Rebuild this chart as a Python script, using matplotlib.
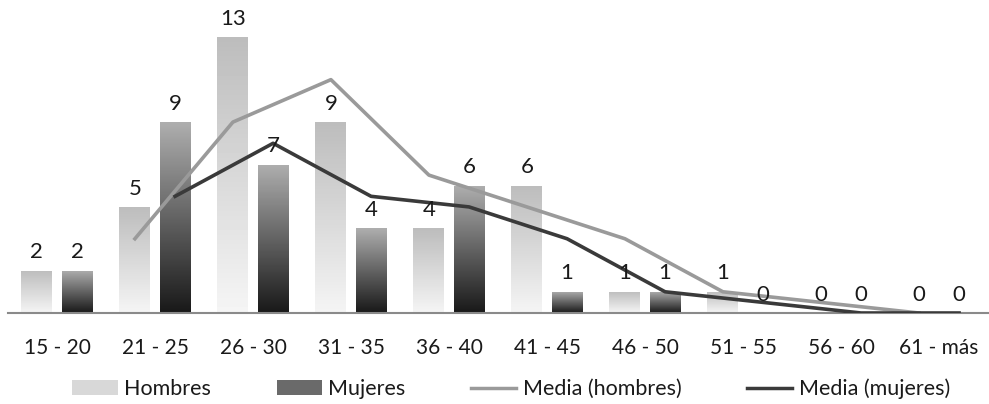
import matplotlib
matplotlib.use("Agg")
import matplotlib.pyplot as plt
import numpy as np
from matplotlib.patches import Patch
from matplotlib.lines import Line2D

plt.rcParams["font.family"] = ["Lato", "DejaVu Sans"]

# Age groups and head counts per group
categorias = ["15 - 20", "21 - 25", "26 - 30", "31 - 35", "36 - 40",
              "41 - 45", "46 - 50", "51 - 55", "56 - 60", "61 - más"]
hombres = [2, 5, 13, 9, 4, 6, 1, 1, 0, 0]
mujeres = [2, 9, 7, 4, 6, 1, 1, 0, 0, 0]

# 2-period moving averages (trend lines), starting at the second group
media_hombres = [3.5, 9, 11, 6.5, 5, 3.5, 1, 0.5, 0]
media_mujeres = [5.5, 8, 5.5, 5, 3.5, 1, 0.5, 0, 0]

W, H = 989, 404
fig = plt.figure(figsize=(W / 100, H / 100), dpi=100)
ax = fig.add_axes([8 / W, 1 - 313 / H, 980 / W, (313 - 16) / H])

x = np.arange(len(categorias))
off, bw = 0.205, 0.315


def gradient_bars(xpos, vals, top_grey, bottom_grey):
    bars = ax.bar(xpos, vals, width=bw, color="none", edgecolor="none", zorder=2)
    for b in bars:
        h = b.get_height()
        if h <= 0:
            continue
        x0 = b.get_x()
        grad = np.linspace(top_grey, bottom_grey, 64).reshape(-1, 1)
        im = ax.imshow(grad, extent=[x0, x0 + b.get_width(), 0, h],
                       cmap="gray", vmin=0, vmax=1, aspect="auto",
                       interpolation="bicubic", zorder=2)
        im.set_clip_path(b)
    return bars


gradient_bars(x - off, hombres, 0.74, 0.96)
gradient_bars(x + off, mujeres, 0.68, 0.1)

ax.plot(x[1:] - off, media_hombres, color="#9a9a9a", lw=2.6, zorder=3)
ax.plot(x[1:] + off, media_mujeres, color="#3a3a3a", lw=2.6, zorder=3)

for xs, vals in ((x - off, hombres), (x + off, mujeres)):
    for xi, v in zip(xs, vals):
        ax.annotate(str(v), (xi, v), xytext=(0, 6), textcoords="offset points",
                    ha="center", va="bottom", fontsize=16, color="#1a1a1a", zorder=4)

ax.set_xlim(-0.5, len(categorias) - 0.5)
ax.set_ylim(0, 14)
ax.set_xticks(x)
ax.set_xticklabels(categorias, fontsize=15, color="#1a1a1a")
ax.tick_params(axis="x", length=0, pad=18)
ax.set_yticks([])
for side in ("left", "right", "top"):
    ax.spines[side].set_visible(False)
ax.spines["bottom"].set_color("#8a8a8a")
ax.spines["bottom"].set_linewidth(1.5)

handles = [
    Patch(facecolor="#d8d8d8", edgecolor="none"),
    Patch(facecolor="#6a6a6a", edgecolor="none"),
    Line2D([], [], color="#9a9a9a", lw=2.5),
    Line2D([], [], color="#3a3a3a", lw=2.5),
]
labels = ["Hombres", "Mujeres", "Media (hombres)", "Media (mujeres)"]
fig.legend(handles, labels, loc="center", bbox_to_anchor=(0.517, 1 - 389 / H),
           ncol=4, frameon=False, fontsize=15.5, handlelength=2.1,
           handletextpad=0.3, columnspacing=3.05, labelcolor="#1a1a1a")

fig.savefig("out.png", dpi=100)
